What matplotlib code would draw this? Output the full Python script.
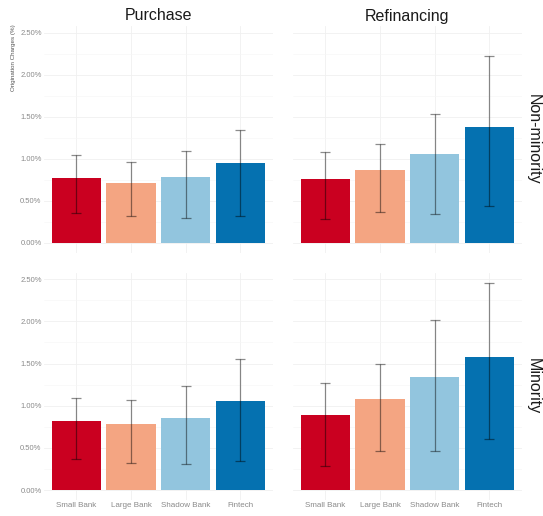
import numpy as np
import matplotlib
matplotlib.use("Agg")
import matplotlib.pyplot as plt

plt.rcParams['font.family'] = ['Liberation Sans', 'DejaVu Sans']

lenders = ['Small Bank', 'Large Bank', 'Shadow Bank', 'Fintech']
colors = ['#CA0020', '#F4A582', '#92C5DE', '#0571B0']

# mean origination charges (%) with lower / upper bounds of the interval
purchase_nonmin = [0.767, 0.707, 0.782, 0.945]
purchase_nonmin_lo = [0.350, 0.314, 0.298, 0.320]
purchase_nonmin_hi = [1.040, 0.957, 1.095, 1.345]

refi_nonmin = [0.758, 0.865, 1.060, 1.377]
refi_nonmin_lo = [0.286, 0.369, 0.338, 0.437]
refi_nonmin_hi = [1.076, 1.171, 1.528, 2.220]

purchase_min = [0.819, 0.779, 0.858, 1.052]
purchase_min_lo = [0.364, 0.316, 0.305, 0.340]
purchase_min_hi = [1.088, 1.064, 1.230, 1.555]

refi_min = [0.894, 1.080, 1.345, 1.578]
refi_min_lo = [0.289, 0.467, 0.459, 0.601]
refi_min_hi = [1.266, 1.491, 2.017, 2.453]

W, H = 543, 516
fig = plt.figure(figsize=(W / 100, H / 100), dpi=100)

def px_axes(x0, y0, x1, y1):
    # pixel box (top-left origin) -> figure axes
    return fig.add_axes([x0 / W, 1 - y1 / H, (x1 - x0) / W, (y1 - y0) / H])

panels = [
    (px_axes(43.7, 26.3, 273, 253), purchase_nonmin, purchase_nonmin_lo, purchase_nonmin_hi, True, False),
    (px_axes(292.7, 26.3, 522, 253), refi_nonmin, refi_nonmin_lo, refi_nonmin_hi, False, False),
    (px_axes(43.7, 272.8, 273, 500.4), purchase_min, purchase_min_lo, purchase_min_hi, True, True),
    (px_axes(292.7, 272.8, 522, 500.4), refi_min, refi_min_lo, refi_min_hi, False, True),
]

x = np.arange(1, len(lenders) + 1)
for ax, vals, lo, hi, show_y, show_x in panels:
    vals = np.array(vals)
    ax.set_xlim(0.4, 4.6)
    ax.set_ylim(-0.123, 2.576)
    ax.set_yticks(np.arange(0, 2.51, 0.5))
    ax.set_yticks(np.arange(0.25, 2.6, 0.5), minor=True)
    ax.set_xticks(x)
    ax.grid(True, which='major', color='#f0f0f0', lw=0.6, zorder=0)
    ax.grid(True, which='minor', axis='y', color='#f6f6f6', lw=0.4, zorder=0)
    ax.set_axisbelow(True)
    for s in ax.spines.values():
        s.set_visible(False)
    ax.tick_params(length=0, pad=1.5, labelsize=5.5, labelcolor='#8a8a8a')
    ax.tick_params(which='minor', length=0)
    if show_y:
        ax.set_yticklabels(['%.2f%%' % v for v in np.arange(0, 2.51, 0.5)])
    else:
        ax.set_yticklabels([])
    if show_x:
        ax.set_xticklabels(lenders)
        ax.tick_params(axis='x', pad=1.5, labelsize=5.8)
    else:
        ax.set_xticklabels([])

    ax.bar(x, vals, width=0.9, color=colors, zorder=2)
    yerr = np.vstack([vals - np.array(lo), np.array(hi) - vals])
    ax.errorbar(x, vals, yerr=yerr, fmt='none', ecolor='black', alpha=0.45,
                elinewidth=0.9, capsize=3.6, capthick=0.9, zorder=3)

fig.text(158 / W, 1 - 16 / H, 'Purchase', ha='center', va='center', fontsize=11.5, color='#1a1a1a')
fig.text(407 / W, 1 - 16 / H, 'Refinancing', ha='center', va='center', fontsize=11.5, color='#1a1a1a')
fig.text(533 / W, 1 - 139 / H, 'Non-minority', ha='center', va='center', rotation=-90,
         fontsize=11.5, color='#1a1a1a')
fig.text(533 / W, 1 - 386 / H, 'Minority', ha='center', va='center', rotation=-90,
         fontsize=11.5, color='#1a1a1a')
fig.text(14 / W, 1 - 58 / H, 'Origination Charges (%)', ha='center', va='center', rotation=90,
         fontsize=4.5, color='#555555')

fig.savefig('out.png', dpi=100)
